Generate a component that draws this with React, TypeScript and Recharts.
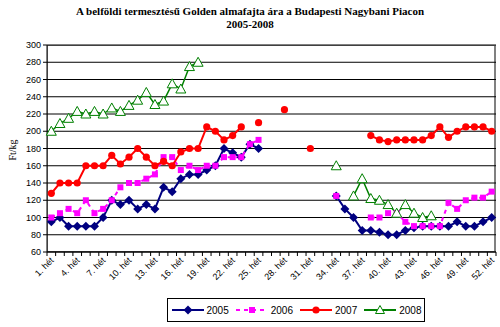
import React from "react";
import { LineChart, Line, XAxis, YAxis, CartesianGrid } from "recharts";

// Week numbers (categories)
const weeks = [
  1, 2, 3, 4, 5, 6, 7, 8, 9, 10, 11, 12, 13, 14, 15, 16, 17, 18, 19, 20, 21, 22, 23, 24, 25, 26,
  27, 28, 29, 30, 31, 32, 33, 34, 35, 36, 37, 38, 39, 40, 41, 42, 43, 44, 45, 46, 47, 48, 49, 50, 51, 52,
];

// Ft/kg prices per week, null = no quotation
const y2005 = [
  95, 100, 90, 90, 90, 90, 100, 120, 115, 120, 110, 115, 110, 135, 130, 145, 150, 150, 155, 160, 180, 175, 170, 185, 180, null,
  null, null, null, null, null, null, null, 125, 110, 100, 85, 85, 83, 80, 80, 85, 88, 90, 90, 90, 90, 95, 90, 90, 95, 100,
];
const y2006 = [
  100, 105, 110, 105, 120, 105, 110, 120, 135, 140, 140, 145, 150, 170, 170, 155, 160, 155, 160, 160, 170, 170, 170, 185, 190, null,
  null, null, null, null, null, null, null, 125, null, null, null, 100, 100, 105, 105, 95, 90, 90, 90, 90, 117, 110, 120, 123, 123, 130,
];
const y2007 = [
  128, 140, 140, 140, 160, 160, 160, 172, 162, 170, 180, 170, 160, 165, 160, 176, 180, 180, 205, 200, 190, 195, 205, null, 210, null,
  null, 225, null, null, 180, null, null, null, null, null, null, 195, 190, 188, 190, 190, 190, 190, 195, 205, 193, 200, 205, 205, 205, 200,
];
const y2008 = [
  200, 209, 215, 223, 220, 223, 220, 227, 223, 230, 236, 245, 231, 235, 255, 249, 275, 280, null, null, null, null, null, null, null, null,
  null, null, null, null, null, null, null, 160, null, 125, 145, 122, 120, 115, 105, 115, 105, 100, 102, null, null, null, null, null, null, null,
];

const yTicks = [60, 80, 100, 120, 140, 160, 180, 200, 220, 240, 260, 280, 300];

const data = weeks.map((w, i) => ({
  week: w,
  y2005: y2005[i],
  y2006: y2006[i],
  y2007: y2007[i],
  y2008: y2008[i],
}));

const W = 500;
const H = 327;
const M = { top: 45, right: 4, left: 0, bottom: 0 };
const Y_W = 47;
const X_H = 75;
const PLOT_W = W - M.right - Y_W;
const PLOT_H = H - M.top - X_H;
const BAND = PLOT_W / weeks.length;

const NAVY = "#000080";
const MAGENTA = "#FF00FF";
const RED = "#FF0000";
const GREEN = "#008000";
const SANS = "'Liberation Sans', Arial, sans-serif";
const SERIF = "'Liberation Serif', 'Times New Roman', serif";

const empty = (key: string) => <g key={key} />;

const Diamond = (p: any) => {
  const { cx, cy, index } = p;
  if (cx == null || cy == null || p.value == null) return empty(`d${index}`);
  const s = 4.5;
  return (
    <polygon
      key={`d${index}`}
      points={`${cx},${cy - s} ${cx + s},${cy} ${cx},${cy + s} ${cx - s},${cy}`}
      fill={NAVY}
    />
  );
};

const Square = (p: any) => {
  const { cx, cy, index } = p;
  if (cx == null || cy == null || p.value == null) return empty(`s${index}`);
  return <rect key={`s${index}`} x={cx - 3} y={cy - 3} width={6} height={6} fill={MAGENTA} />;
};

const Circle = (p: any) => {
  const { cx, cy, index } = p;
  if (cx == null || cy == null || p.value == null) return empty(`c${index}`);
  return <circle key={`c${index}`} cx={cx} cy={cy} r={3.6} fill={RED} />;
};

const Triangle = (p: any) => {
  const { cx, cy, index } = p;
  if (cx == null || cy == null || p.value == null) return empty(`t${index}`);
  return (
    <polygon
      key={`t${index}`}
      points={`${cx},${cy - 5} ${cx + 5},${cy + 4} ${cx - 5},${cy + 4}`}
      fill="#fff"
      stroke={GREEN}
      strokeWidth={1}
    />
  );
};

// x ticks: a mark at every week boundary, a label every third week
const WeekTick = (props: any) => {
  const { x, y, payload, index } = props;
  const left = x - BAND / 2;
  return (
    <g>
      <line x1={left} x2={left} y1={y} y2={y + 4} stroke="#000" />
      {index === weeks.length - 1 && (
        <line x1={x + BAND / 2} x2={x + BAND / 2} y1={y} y2={y + 4} stroke="#000" />
      )}
      {index % 3 === 0 && (
        <text
          x={x + 3}
          y={y + 9}
          transform={`rotate(-45, ${x + 3}, ${y + 9})`}
          textAnchor="end"
          fontSize={9}
          fontFamily={SANS}
          fill="#000"
        >
          {`${payload.value}. hét`}
        </text>
      )}
    </g>
  );
};

const legendItems = [
  { name: "2005", color: NAVY, dash: undefined, mark: "diamond" },
  { name: "2006", color: MAGENTA, dash: "4 4", mark: "square" },
  { name: "2007", color: RED, dash: undefined, mark: "circle" },
  { name: "2008", color: GREEN, dash: undefined, mark: "triangle" },
];

function LegendIcon({ color, dash, mark }: { color: string; dash?: string; mark: string }) {
  return (
    <svg width={34} height={12}>
      <line x1={1} x2={33} y1={6} y2={6} stroke={color} strokeWidth={2} strokeDasharray={dash} />
      {mark === "diamond" && <polygon points="17,1.5 21.5,6 17,10.5 12.5,6" fill={color} />}
      {mark === "square" && <rect x={14} y={3} width={6} height={6} fill={color} />}
      {mark === "circle" && <circle cx={17} cy={6} r={3.6} fill={color} />}
      {mark === "triangle" && <polygon points="17,1.5 21.5,9.5 12.5,9.5" fill="#fff" stroke={color} />}
    </svg>
  );
}

export default function App() {
  return (
    <div style={{ position: "absolute", left: 0, top: 0, width: W, height: H, background: "#fff" }}>
      <div
        style={{
          position: "absolute",
          left: 0,
          top: 5,
          width: W,
          textAlign: "center",
          fontFamily: SERIF,
          fontWeight: "bold",
          fontSize: 11,
          lineHeight: "13px",
        }}
      >
        <div>A belföldi termesztésű Golden almafajta ára a Budapesti Nagybani Piacon</div>
        <div>2005-2008</div>
      </div>

      {/* plot frame */}
      <div
        style={{
          position: "absolute",
          left: Y_W,
          top: M.top,
          width: PLOT_W,
          height: PLOT_H,
          boxSizing: "border-box",
          border: "1px solid #808080",
          borderRightWidth: 2,
        }}
      />

      <div
        style={{
          position: "absolute",
          left: 12,
          top: 150,
          transform: "translate(-50%, -50%) rotate(-90deg)",
          fontFamily: SERIF,
          fontSize: 10,
        }}
      >
        Ft/kg
      </div>

      <div style={{ position: "absolute", left: 0, top: 0 }}>
        <LineChart width={W} height={H} data={data} margin={M}>
          <CartesianGrid vertical={false} stroke="#000" strokeWidth={1} />
          <XAxis
            dataKey="week"
            scale="band"
            height={X_H}
            interval={0}
            tickLine={false}
            tickSize={0}
            tickMargin={0}
            axisLine={{ stroke: "#000" }}
            tick={<WeekTick />}
          />
          <YAxis
            width={Y_W}
            domain={[60, 300]}
            ticks={yTicks}
            interval={0}
            tickSize={4}
            tickMargin={2}
            axisLine={{ stroke: "#000" }}
            tickLine={{ stroke: "#000" }}
            tick={{ fontSize: 9, fontFamily: SANS, fill: "#000" }}
          />
          <Line
            dataKey="y2005"
            stroke={NAVY}
            strokeWidth={2}
            dot={Diamond}
            activeDot={false}
            isAnimationActive={false}
          />
          <Line
            dataKey="y2006"
            stroke={MAGENTA}
            strokeWidth={2}
            strokeDasharray="4 4"
            dot={Square}
            activeDot={false}
            isAnimationActive={false}
          />
          <Line
            dataKey="y2007"
            stroke={RED}
            strokeWidth={2}
            dot={Circle}
            activeDot={false}
            isAnimationActive={false}
          />
          <Line
            dataKey="y2008"
            stroke={GREEN}
            strokeWidth={1.5}
            dot={Triangle}
            activeDot={false}
            isAnimationActive={false}
          />
        </LineChart>
      </div>

      <div
        style={{
          position: "absolute",
          left: 167,
          top: 298,
          width: 258,
          height: 24,
          boxSizing: "border-box",
          border: "1.5px solid #000",
          display: "flex",
          alignItems: "center",
          justifyContent: "center",
          gap: 6,
          fontFamily: SANS,
          fontSize: 10,
        }}
      >
        {legendItems.map((it) => (
          <div key={it.name} style={{ display: "flex", alignItems: "center", gap: 2 }}>
            <LegendIcon color={it.color} dash={it.dash} mark={it.mark} />
            <span>{it.name}</span>
          </div>
        ))}
      </div>
    </div>
  );
}
